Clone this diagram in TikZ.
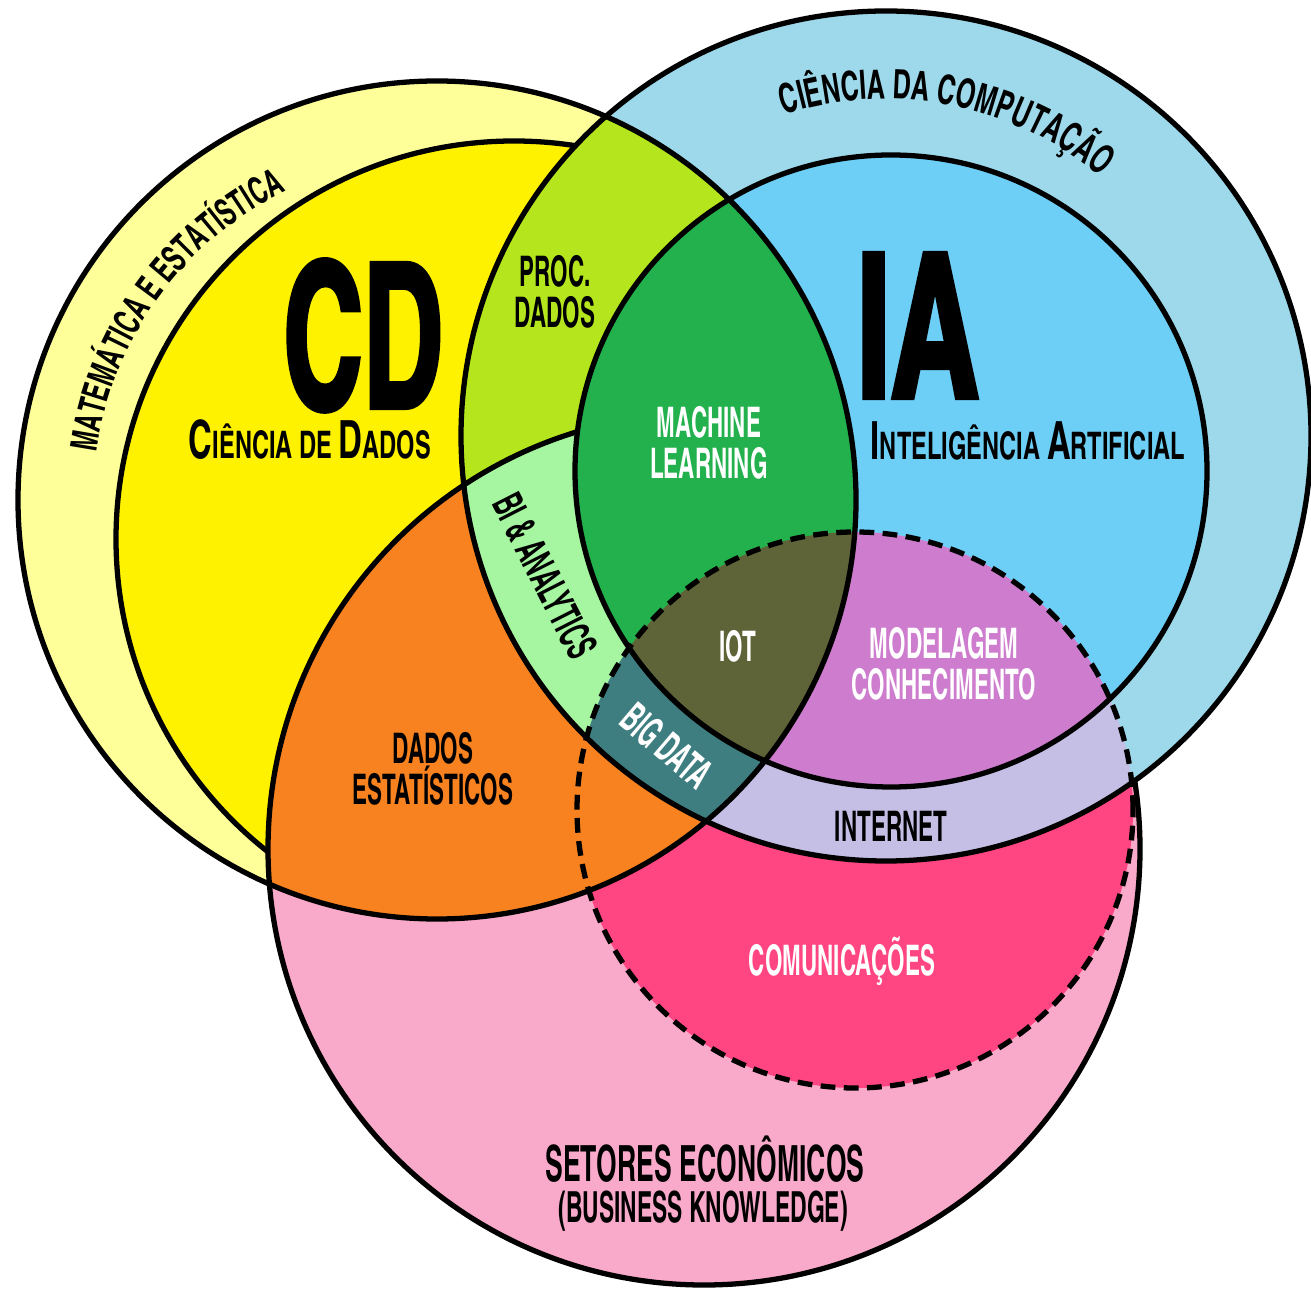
\documentclass[tikz,border=0pt]{standalone}
\usepackage{fontspec}
\usetikzlibrary{decorations.text}
\newfontfamily\dinfont{texgyreheroscn-bold.otf}[FakeStretch=0.65]
\newfontfamily\dinwide{texgyreheroscn-bold.otf}[FakeStretch=0.76]
\newfontfamily\dinheavy{texgyreheroscn-bold.otf}[FakeStretch=0.74,FakeBold=2]
\definecolor{matyellow}{HTML}{FFFF99}
\definecolor{cdyellow}{HTML}{FFF200}
\definecolor{ccblue}{HTML}{9DD9EA}
\definecolor{iablue}{HTML}{6DCFF6}
\definecolor{setpink}{HTML}{F9A9C9}
\definecolor{compink}{HTML}{FF4682}
\definecolor{procgreen}{HTML}{B5E61D}
\definecolor{mlgreen}{HTML}{22B14C}
\definecolor{bigreen}{HTML}{A6F5A0}
\definecolor{estorange}{HTML}{F7821F}
\definecolor{netlilac}{HTML}{C5BEE5}
\definecolor{modorchid}{HTML}{CD7CCE}
\definecolor{iotolive}{HTML}{5F6438}
\definecolor{bigteal}{HTML}{3F7E80}
\newcommand\matcirc{(4.37,7.90) circle (4.19)}
\newcommand\cdcirc{(5.14,7.51) circle (3.98)}
\newcommand\cccirc{(8.86,8.54) circle (4.25)}
\newcommand\iacirc{(8.91,8.19) circle (3.16)}
\newcommand\setcirc{(7.04,4.41) circle (4.36)}
\newcommand\comcirc{(8.55,4.80) circle (2.78)}
\newcommand\initcap[2]{{\fontsize{15}{15}\selectfont#1}#2}
\tikzset{
    lbl/.style={font=\dinfont\fontsize{12}{11.8}\selectfont,align=center,inner sep=0pt},
    wlbl/.style={lbl,text=white},
    namelbl/.style={lbl,anchor=base,font=\dinwide\fontsize{10.8}{12}\selectfont},
    bigcaps/.style={font=\dinheavy\fontsize{57.5}{57.5}\selectfont,inner sep=0pt,anchor=base}
}
\begin{document}
\begin{tikzpicture}[line width=1.5pt]
    \useasboundingbox (0,0) rectangle (13.11,12.90);
    \fill[setpink] \setcirc;
    \fill[compink] \comcirc;
    \draw \setcirc;
    \fill[ccblue] \cccirc;
    \fill[iablue] \iacirc;
    \begin{scope}
        \clip \cccirc;
        \fill[netlilac] \comcirc;
    \end{scope}
    \begin{scope}
        \clip \iacirc;
        \fill[modorchid] \comcirc;
    \end{scope}
    \fill[matyellow] \matcirc;
    \begin{scope}
        \clip \matcirc;
        \fill[cdyellow] \cdcirc;
        \draw \cdcirc;
        \fill[estorange] \setcirc;
        \fill[procgreen] \cccirc;
        \begin{scope}
            \clip \cccirc;
            \fill[bigreen] \setcirc;
            \fill[bigteal] \comcirc;
        \end{scope}
        \draw \setcirc;
        \fill[mlgreen] \iacirc;
        \begin{scope}
            \clip \iacirc;
            \fill[iotolive] \comcirc;
        \end{scope}
    \end{scope}
    \draw \matcirc;
    \draw \cccirc;
    \draw \iacirc;
    \draw[dash pattern=on 4.2pt off 2.4pt] \comcirc;

    \path[decorate,decoration={text along path,text align=center,
        text={|\dinwide\fontsize{10.6}{12}\selectfont|MATEMÁTICA E ESTATÍSTICA}}]
        (4.37,7.90) ++(200:3.44) arc (200:88:3.44);
    \path[decorate,decoration={text along path,text align=center,
        text={|\dinwide\fontsize{11.5}{12}\selectfont|CIÊNCIA DA COMPUTAÇÃO}}]
        (8.86,8.54) ++(134:3.37) arc (134:24:3.37);

    \node[bigcaps] (cd) at (3.63,8.82) {\scalebox{0.9}[1]{CD}};
    \node[namelbl] (cdname) at (3.10,8.31) {\initcap{C}{IÊNCIA} DE \initcap{D}{ADOS}};
    \node[bigcaps] (ia) at (9.18,8.92) {IA};
    \node[namelbl] (ianame) at (10.28,8.30) {\initcap{I}{NTELIGÊNCIA} \initcap{A}{RTIFICIAL}};
    \node[lbl] (proc) at (5.55,9.98) {PROC.\\DADOS};
    \node[wlbl] (ml) at (7.09,8.47) {MACHINE\\LEARNING};
    \node[lbl,rotate=-63] (bi) at (5.45,7.14) {BI \& ANALYTICS};
    \node[wlbl] (iot) at (7.38,6.44) {IOT};
    \node[wlbl] (mod) at (9.44,6.26) {MODELAGEM\\CONHECIMENTO};
    \node[wlbl,rotate=-40.5] (bigdata) at (6.67,5.44) {BIG DATA};
    \node[lbl] (dados) at (4.33,5.21) {DADOS\\ESTATÍSTICOS};
    \node[lbl] (internet) at (8.91,4.64) {INTERNET};
    \node[wlbl,anchor=base] (comm) at (8.42,3.15) {COMUNICAÇÕES};
    \node[lbl,anchor=base,font=\dinfont\fontsize{14.2}{14}\selectfont] (setores) at (7.05,1.09) {SETORES ECONÔMICOS};
    \node[lbl,anchor=base,font=\dinfont\fontsize{12.2}{12}\selectfont] (business) at (7.03,0.68) {(BUSINESS KNOWLEDGE)};
\end{tikzpicture}
\end{document}
